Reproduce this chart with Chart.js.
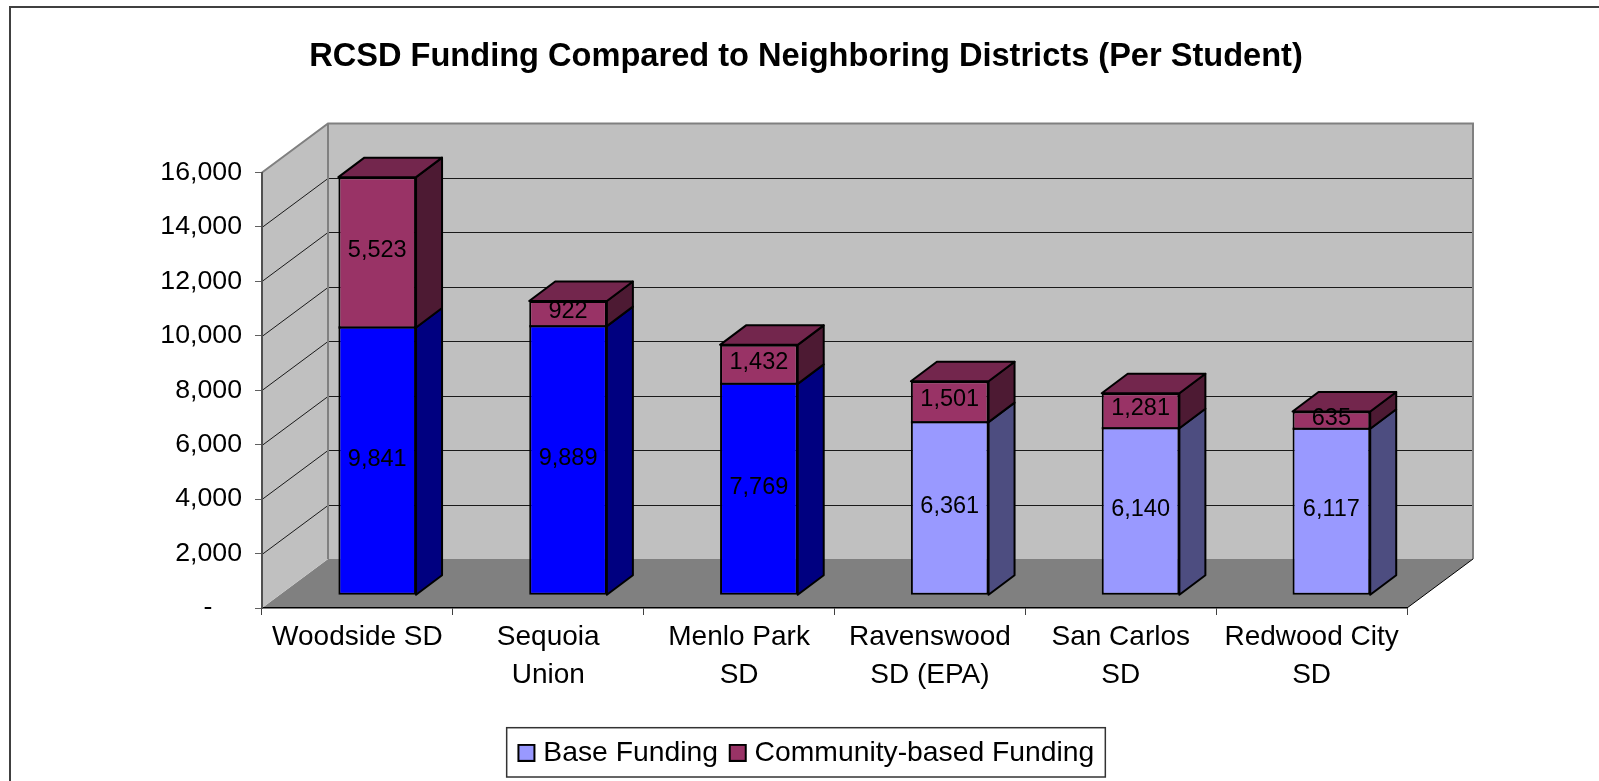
<!DOCTYPE html>
<html>
<head>
<meta charset="utf-8">
<title>RCSD Funding</title>
<script src="https://cdn.jsdelivr.net/npm/chart.js@4"></script>
<style>
  html, body { margin: 0; padding: 0; background: #fff; overflow: hidden; }
  canvas { display: block; }
</style>
</head>
<body>
<canvas id="fundingChart" width="1599" height="781"></canvas>
<script>
const categories = ['Woodside SD', ['Sequoia', 'Union'], ['Menlo Park', 'SD'], ['Ravenswood', 'SD (EPA)'], ['San Carlos', 'SD'], ['Redwood City', 'SD']];
const baseFunding = [9841, 9889, 7769, 6361, 6140, 6117];
const communityFunding = [5523, 922, 1432, 1501, 1281, 635];
const seriesNames = ['Base Funding', 'Community-based Funding'];
const chartTitle = 'RCSD Funding Compared to Neighboring Districts (Per Student)';

const FONT = '"Liberation Sans", Arial, sans-serif';
const BASE_COLOR = '#9999FF';
const HIGHLIGHT_COLOR = '#0000FF';
const COMMUNITY_COLOR = '#993366';
const highlighted = ['Woodside SD', 'Sequoia', 'Menlo Park'];

// box depth of the room and of each bar, in pixels
const ROOM = { dx: 66, dy: -49 };
const BAR_PLANE = { dx: 19.8, dy: -12.7 };
const BAR = { dx: 26, dy: -19.5 };

function shade(hex, f) {
    const n = parseInt(hex.slice(1), 16);
    const c = [n >> 16, (n >> 8) & 255, n & 255].map(v => Math.round(v * f));
    return `rgb(${c[0]},${c[1]},${c[2]})`;
}

function baseColor(ctx) {
    if (ctx.dataIndex === undefined) return BASE_COLOR;
    const cat = categories[ctx.dataIndex];
    return highlighted.includes(Array.isArray(cat) ? cat[0] : cat) ? HIGHLIGHT_COLOR : BASE_COLOR;
}

function poly(ctx, pts, fill, stroke, width) {
    ctx.beginPath();
    pts.forEach((p, i) => i ? ctx.lineTo(p[0], p[1]) : ctx.moveTo(p[0], p[1]));
    ctx.closePath();
    if (fill) { ctx.fillStyle = fill; ctx.fill(); }
    if (stroke) { ctx.strokeStyle = stroke; ctx.lineWidth = width; ctx.stroke(); }
}

// legend swatch sits close to its text, so it is drawn off-centre in a small canvas
function legendSwatch(color) {
    const c = document.createElement('canvas');
    c.width = 30;
    c.height = 18;
    const g = c.getContext('2d');
    g.fillStyle = color;
    g.fillRect(10, 1, 16, 16);
    g.strokeStyle = '#000';
    g.lineWidth = 2;
    g.strokeRect(10, 1, 16, 16);
    return c;
}

const room3d = {
    id: 'room3d',
    beforeDraw(chart) {
        const { ctx, chartArea: a, scales } = chart;
        const bx = a.left + ROOM.dx, rx = a.right + ROOM.dx;
        const ty = a.top + ROOM.dy, by = a.bottom + ROOM.dy;
        ctx.save();
        // floor, left wall, back wall
        poly(ctx, [[a.left, a.bottom], [bx, by], [rx, by], [a.right, a.bottom]], '#808080');
        poly(ctx, [[a.left, a.top], [bx, ty], [bx, by], [a.left, a.bottom]], '#C0C0C0');
        ctx.fillStyle = '#C0C0C0';
        ctx.fillRect(bx, ty, rx - bx, by - ty);

        // gridlines run across the left wall and the back wall
        ctx.strokeStyle = '#1a1a1a';
        ctx.lineWidth = 1;
        scales.y.ticks.forEach(t => {
            if (t.value === 0 || t.value === 16000) return;
            const y = Math.round(scales.y.getPixelForValue(t.value)) + 0.5;
            ctx.beginPath();
            ctx.moveTo(a.left, y);
            ctx.lineTo(bx, y + ROOM.dy);
            ctx.lineTo(rx - 1, y + ROOM.dy);
            ctx.stroke();
        });

        // wall edges
        ctx.strokeStyle = '#808080';
        ctx.lineWidth = 2;
        ctx.beginPath();
        ctx.moveTo(a.left, a.top);
        ctx.lineTo(bx, ty);
        ctx.lineTo(rx, ty);
        ctx.lineTo(rx, by);
        ctx.moveTo(bx, ty);
        ctx.lineTo(bx, by);
        ctx.stroke();

        // right floor edge
        ctx.strokeStyle = '#000';
        ctx.lineWidth = 1;
        ctx.beginPath();
        ctx.moveTo(a.right, a.bottom);
        ctx.lineTo(rx, by);
        ctx.stroke();
        ctx.restore();
    },
    beforeDatasetsDraw(chart) {
        const { ctx } = chart;
        ctx.save();
        ctx.translate(BAR_PLANE.dx, BAR_PLANE.dy);
        ctx.lineJoin = 'round';
        chart.data.datasets.forEach((ds, di) => {
            chart.getDatasetMeta(di).data.forEach((el, i) => {
                const p = el.getProps(['x', 'y', 'base', 'width'], true);
                const r = p.x + p.width / 2, l = p.x - p.width / 2;
                const face = di === 0 ? baseColor({ dataIndex: i }) : COMMUNITY_COLOR;
                poly(ctx, [[r, p.y], [r + BAR.dx, p.y + BAR.dy], [r + BAR.dx, p.base + BAR.dy], [r, p.base]], shade(face, 0.5), '#000', 2);
                if (di === 1) {
                    poly(ctx, [[l, p.y], [l + BAR.dx, p.y + BAR.dy], [r + BAR.dx, p.y + BAR.dy], [r, p.y]], shade(face, 0.75), '#000', 2);
                }
            });
        });
    },
    afterDatasetsDraw(chart) {
        const { ctx } = chart;
        // line between the two stacked segments
        ctx.strokeStyle = '#000';
        ctx.lineWidth = 2;
        chart.getDatasetMeta(1).data.forEach(el => {
            const p = el.getProps(['x', 'base', 'width'], true);
            ctx.beginPath();
            ctx.moveTo(p.x - p.width / 2, p.base);
            ctx.lineTo(p.x + p.width / 2, p.base);
            ctx.stroke();
        });
        // value labels, still in the shifted bar plane
        ctx.fillStyle = '#000';
        ctx.font = '23.5px ' + FONT;
        ctx.textAlign = 'center';
        ctx.textBaseline = 'middle';
        chart.data.datasets.forEach((ds, di) => {
            chart.getDatasetMeta(di).data.forEach((el, i) => {
                const p = el.getProps(['x', 'y', 'base'], true);
                ctx.fillText(ds.data[i].toLocaleString('en-US'), p.x, (p.y + p.base) / 2 - 2);
            });
        });
        ctx.restore();
    },
    afterDraw(chart) {
        const { ctx, legend } = chart;
        ctx.save();
        // outer frame runs off the right and bottom of the picture
        ctx.strokeStyle = '#404040';
        ctx.lineWidth = 2;
        ctx.strokeRect(10, 7, 1700, 900);
        // legend border
        const hit = legend.legendHitBoxes;
        const last = hit[hit.length - 1];
        const left = hit[0].left - 11;
        ctx.strokeStyle = '#333';
        ctx.lineWidth = 1.5;
        ctx.strokeRect(left, legend.top, last.left + last.width + 11 - left, legend.height);
        ctx.restore();
    }
};

new Chart(document.getElementById('fundingChart').getContext('2d'), {
    type: 'bar',
    data: {
        labels: categories,
        datasets: [
            {
                label: seriesNames[0], data: baseFunding, backgroundColor: baseColor, borderColor: '#000',
                borderWidth: { left: 2, right: 2, bottom: 2, top: 1 }, borderSkipped: false, inflateAmount: 0
            },
            {
                label: seriesNames[1], data: communityFunding, backgroundColor: COMMUNITY_COLOR, borderColor: '#000',
                borderWidth: { left: 2, right: 2, bottom: 1, top: 2 }, borderSkipped: false, inflateAmount: 0
            }
        ]
    },
    plugins: [room3d],
    options: {
        responsive: false,
        animation: false,
        devicePixelRatio: 1,
        clip: false,
        barPercentage: 0.407,
        categoryPercentage: 1,
        layout: { autoPadding: false, padding: { left: 13, right: 0, top: 0, bottom: 4 } },
        scales: {
            x: {
                stacked: true,
                grid: { offset: true, drawOnChartArea: false, color: '#404040', tickLength: 7 },
                border: { color: '#000', width: 1.5 },
                ticks: { color: '#000', autoSkip: false, maxRotation: 0, padding: 4, font: { family: FONT, size: 28, lineHeight: 1.34 } },
                afterFit(s) { s.height = 119.7; }
            },
            y: {
                stacked: true,
                min: 0,
                max: 16000,
                grid: { drawOnChartArea: false, color: '#606060', tickLength: 7 },
                border: { color: '#505050', width: 2 },
                ticks: {
                    stepSize: 2000,
                    color: '#000',
                    padding: 13,
                    font: { family: FONT, size: 26.7 },
                    callback: v => v === 0 ? '-    ' : v.toLocaleString('en-US')
                },
                afterFit(s) { s.width = 249; }
            },
            // empty axis that holds the room's depth free on the right
            spacer: {
                axis: 'y',
                type: 'linear',
                position: 'right',
                grid: { display: false },
                border: { display: false },
                ticks: { display: false },
                afterFit(s) { s.width = 192; }
            }
        },
        plugins: {
            title: {
                display: true,
                text: chartTitle,
                color: '#000',
                font: { family: FONT, size: 32.6, weight: 'bold' },
                padding: { top: 37, bottom: 96.4 }
            },
            legend: {
                position: 'bottom',
                labels: {
                    color: '#000',
                    usePointStyle: true,
                    pointStyleWidth: 11.5,
                    boxHeight: 17,
                    padding: 11,
                    font: { family: FONT, size: 28.3 },
                    generateLabels() {
                        return seriesNames.map((name, i) => ({
                            text: name,
                            datasetIndex: i,
                            fontColor: '#000',
                            pointStyle: legendSwatch(i === 0 ? BASE_COLOR : COMMUNITY_COLOR)
                        }));
                    }
                }
            },
            tooltip: { enabled: false }
        }
    }
});
</script>
</body>
</html>
